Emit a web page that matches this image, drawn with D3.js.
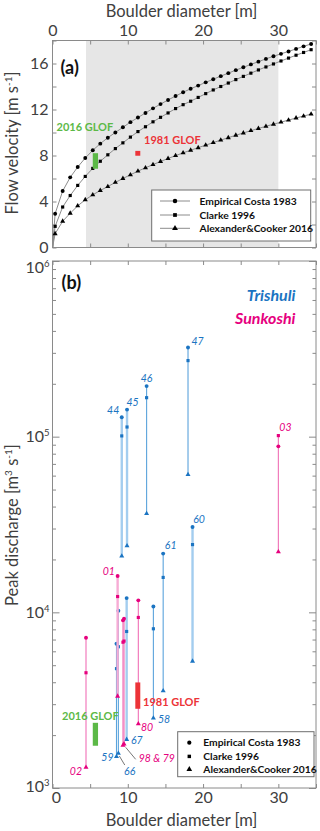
<!DOCTYPE html>
<html>
<head>
<meta charset="utf-8">
<script src="https://cdn.jsdelivr.net/npm/d3@7/dist/d3.min.js"></script>
<style>
  body { margin: 0; background: #ffffff; }
  svg { display: block; font-family: Lato, "Open Sans", sans-serif; }
</style>
</head>
<body>
<script>
// ---- panel (a): flow velocity vs boulder diameter ----
var diameterA = [0, 0.35, 1.35, 2.35, 3.35, 4.35, 5.35, 6.35, 7.35, 8.35, 9.35, 10.35, 11.35,
  12.35, 13.35, 14.35, 15.35, 16.35, 17.35, 18.35, 19.35, 20.35, 21.35, 22.35, 23.35, 24.35,
  25.35, 26.35, 27.35, 28.35, 29.35, 30.35, 31.35, 32.35, 33.35, 34.35];
var velocityCosta = [0, 2.94, 4.91, 6.1, 7.0, 7.78, 8.45, 9.03, 9.55, 10.0, 10.45, 10.9, 11.3,
  11.7, 12.1, 12.47, 12.83, 13.17, 13.5, 13.8, 14.08, 14.36, 14.63, 14.9, 15.16, 15.42,
  15.67, 15.92, 16.16, 16.4, 16.63, 16.84, 17.05, 17.27, 17.49, 17.7];
var velocityClarke = [0, 1.84, 3.52, 4.52, 5.4, 6.18, 6.88, 7.5, 8.06, 8.6, 9.1, 9.6, 10.08,
  10.5, 10.93, 11.32, 11.7, 12.08, 12.42, 12.72, 13.05, 13.38, 13.7, 14.0, 14.3, 14.6,
  14.88, 15.16, 15.44, 15.7, 15.96, 16.22, 16.47, 16.72, 16.96, 17.2];
var velocityAlexander = [0, 1.2, 2.28, 2.98, 3.62, 4.15, 4.58, 4.96, 5.3, 5.66, 6.0, 6.32, 6.64,
  6.93, 7.21, 7.48, 7.74, 7.99, 8.23, 8.46, 8.68, 8.9, 9.12, 9.34, 9.55, 9.76,
  9.96, 10.16, 10.35, 10.54, 10.72, 10.9, 11.08, 11.26, 11.43, 11.6];
var shadedDiameter = [4.45, 30];

// GLOF estimates: diameter range, velocity range, discharge range
var glof2016Diameter = [5.35, 6.05];
var glof2016Velocity = [6.85, 8.2];
var glof2016Discharge = [1740, 2350];
var glof1981Diameter = [11.0, 11.66];
var glof1981Velocity = [7.98, 8.4];
var glof1981Discharge = [2825, 3990];

// ---- panel (b): peak discharge per boulder ----
var trishuliLabels = ["44", "45", "46", "47", "60", "61", "58", "67", "59", "66"];
var trishuliDiameter = [9.2, 9.9, 12.5, 18.0, 18.6, 14.7, 13.4, 9.85, 8.5, 8.75];
var trishuliCosta = [129000, 142600, 194000, 322000, 30600, 21600, 10800, 12050, 6620, 10200];
var trishuliClarke = [101000, 113500, 166700, 271000, 24300, 15800, 8060, 7780, 4780, 6370];
var trishuliAlexander = [20900, 23900, 36500, 60800, 5270, 3570, 2500, 1890, 1510, 1575];

var sunkoshiLabels = ["01", "03", "02", "98", "79", "80"];
var sunkoshiDiameter = [8.65, 30.0, 4.45, 9.36, 9.5, 11.4];
var sunkoshiCosta = [16100, 88100, 7160, 9000, 9200, 11700];
var sunkoshiClarke = [12300, 101400, 4530, 6760, 6860, 9350];
var sunkoshiAlexander = [3330, 22100, 1310, 1750, 1780, 2320];

var methodNames = ["Empirical Costa 1983", "Clarke 1996", "Alexander&Cooker 2016"];

// styling
var blue = "#1b74c2", blueLine = "#5ba3dc", blueWide = "#a3cdef";
var pink = "#e6007e", pinkLine = "#f070b6", pinkWide = "#f7acd5";
var green = "#5cb947", red = "#ec3338";
var axisGrey = "#8a8a8a", labelGrey = "#404040";
var wideLines = ["44", "45", "60", "67", "01"];

// label placement: [which end, dx, dy, anchor]
var labelPlace = {
  "44": ["top", -2.5, -6.5, "end"], "45": ["top", -0.5, -7.6, "start"],
  "46": ["top", 0, -7.4, "middle"], "47": ["top", 3.4, -6.3, "start"],
  "60": ["top", 0.6, -7.4, "start"], "61": ["top", 1.7, -8, "start"],
  "58": ["bottom", 4.6, 1, "start"], "67": ["bottom", 4.3, 0.7, "start"],
  "59": ["bottom", -3, 1, "end"], "66": ["bottom", 5.7, 18.4, "start"],
  "01": ["top", -2.7, -5, "end"], "03": ["top", 1, -8, "start"],
  "02": ["bottom", -4, 4.4, "end"], "98": ["bottom", 15.7, 13, "start"],
  "80": ["bottom", 2.7, 3.6, "start"]
};

var width = 320, height = 831;
var svg, xA, yA, xB, yB;

function start()
{
  svg = d3.select("body").append("svg").attr("width", width).attr("height", height);
  svg.append("rect").attr("width", width).attr("height", height).attr("fill", "#ffffff");

  xA = d3.scaleLinear().domain([0, 35]).range([52.5, 316]);
  yA = d3.scaleLinear().domain([0, 18]).range([247.5, 40.5]);
  xB = d3.scaleLinear().domain([0, 35]).range([52.5, 316]);
  yB = d3.scaleLog().domain([1e3, 1e6]).range([788, 261]);

  drawPanelA();
  drawPanelB();
}

function symbolPath(kind, size)
{
  var type = kind === 0 ? d3.symbolCircle : (kind === 1 ? d3.symbolSquare : d3.symbolTriangle);
  return d3.symbol().type(type).size(size)();
}

function styleAxis(ax)
{
  ax.select(".domain").remove();
  ax.selectAll("line").attr("stroke", axisGrey);
  ax.selectAll("text").attr("fill", labelGrey).style("font-size", "16px")
    .style("font-family", "Lato, sans-serif");
}

function drawPanelA()
{
  var g = svg.append("g");

  // shaded boulder range
  g.append("rect")
    .attr("x", xA(shadedDiameter[0])).attr("y", yA(18))
    .attr("width", xA(shadedDiameter[1]) - xA(shadedDiameter[0]))
    .attr("height", yA(0) - yA(18))
    .attr("fill", "#e6e6e6");

  var ticksY = d3.range(0, 19, 2);
  var ticksX = d3.range(0, 36, 5);

  [
    g.append("g").attr("transform", "translate(" + xA(0) + ",0)")
      .call(d3.axisLeft(yA).tickValues(ticksY).tickSize(-4).tickPadding(4)
        .tickFormat(function(d) { return (d % 4 === 0 && d < 18) ? d : ""; })),
    g.append("g").attr("transform", "translate(" + xA(35) + ",0)")
      .call(d3.axisRight(yA).tickValues(ticksY).tickSize(-4).tickFormat("")),
    g.append("g").attr("transform", "translate(0," + yA(18) + ")")
      .call(d3.axisTop(xA).tickValues(ticksX).tickSize(-4).tickPadding(5)
        .tickFormat(function(d) { return d % 10 === 0 ? d : ""; })),
    g.append("g").attr("transform", "translate(0," + yA(0) + ")")
      .call(d3.axisBottom(xA).tickValues(ticksX).tickSize(-4).tickFormat(""))
  ].forEach(styleAxis);

  g.append("rect")
    .attr("x", xA(0)).attr("y", yA(18))
    .attr("width", xA(35) - xA(0)).attr("height", yA(0) - yA(18))
    .attr("fill", "none").attr("stroke", axisGrey);

  // curves
  var series = [velocityCosta, velocityClarke, velocityAlexander];
  var sizes = [12, 10, 11];
  var line = d3.line()
    .x(function(d) { return xA(d[0]); })
    .y(function(d) { return yA(d[1]); });

  series.forEach(function(values, k)
  {
    var pts = diameterA.map(function(d, i) { return [d, values[i]]; });
    g.append("path").datum(pts).attr("d", line)
      .attr("fill", "none").attr("stroke", "#8c8c8c").attr("stroke-width", 1);
    g.selectAll("path.m" + k).data(pts.slice(1)).enter().append("path")
      .attr("class", "m" + k)
      .attr("d", symbolPath(k, sizes[k]))
      .attr("transform", function(d) { return "translate(" + xA(d[0]) + "," + yA(d[1]) + ")"; })
      .attr("fill", "#000000");
  });

  // GLOF marks
  g.append("rect")
    .attr("x", xA(glof2016Diameter[0])).attr("y", yA(glof2016Velocity[1]))
    .attr("width", xA(glof2016Diameter[1]) - xA(glof2016Diameter[0]))
    .attr("height", yA(glof2016Velocity[0]) - yA(glof2016Velocity[1]))
    .attr("fill", green);
  g.append("rect")
    .attr("x", xA(glof1981Diameter[0])).attr("y", yA(glof1981Velocity[1]))
    .attr("width", xA(glof1981Diameter[1]) - xA(glof1981Diameter[0]))
    .attr("height", yA(glof1981Velocity[0]) - yA(glof1981Velocity[1]))
    .attr("fill", red);

  g.append("text").attr("x", 56.5).attr("y", 127).attr("dy", "0.35em")
    .attr("fill", green).style("font-size", "11px").style("font-weight", "bold")
    .text("2016 GLOF");
  g.append("text").attr("x", 144).attr("y", 140).attr("dy", "0.35em")
    .attr("fill", red).style("font-size", "11px").style("font-weight", "bold")
    .text("1981 GLOF");

  g.append("text").attr("x", 60.5).attr("y", 74)
    .style("font-size", "18px").style("font-weight", "bold").attr("fill", "#111")
    .text("(a)");

  // legend
  var lg = g.append("g");
  lg.append("rect").attr("x", 151.7).attr("y", 190).attr("width", 159).attr("height", 51)
    .attr("fill", "#ffffff").attr("stroke", "#6e6e6e");
  var rows = [201, 215, 228.3];
  methodNames.forEach(function(name, k)
  {
    lg.append("line").attr("x1", 160).attr("x2", 190).attr("y1", rows[k]).attr("y2", rows[k])
      .attr("stroke", "#8c8c8c");
    lg.append("path").attr("d", symbolPath(k, sizes[k] + 4))
      .attr("transform", "translate(175," + rows[k] + ")").attr("fill", "#000");
    lg.append("text").attr("x", 199.5).attr("y", rows[k]).attr("dy", "0.35em")
      .style("font-size", "10.3px").style("font-weight", "bold").attr("fill", "#111")
      .text(name);
  });

  // axis titles
  svg.append("text").attr("x", 181.5).attr("y", 17).attr("text-anchor", "middle")
    .style("font-size", "16.5px").attr("fill", labelGrey).text("Boulder diameter [m]");

  var yt = svg.append("text").attr("transform", "translate(18,143) rotate(-90)")
    .attr("text-anchor", "middle").style("font-size", "16.5px").attr("fill", labelGrey);
  yt.append("tspan").text("Flow velocity [m s");
  yt.append("tspan").attr("dy", -6).style("font-size", "10px").text("-1");
  yt.append("tspan").attr("dy", 6).text("]");
}

function drawPanelB()
{
  var g = svg.append("g");

  var ticksX = d3.range(0, 36, 5);
  var minor = [];
  [1e3, 1e4, 1e5].forEach(function(p)
  {
    for (var m = 2; m <= 9; m++) minor.push(m * p);
  });
  var major = [1e3, 1e4, 1e5, 1e6];

  var bottomAxis = g.append("g").attr("transform", "translate(0," + yB(1e3) + ")")
    .call(d3.axisBottom(xB).tickValues(ticksX).tickSize(-4).tickPadding(4)
      .tickFormat(function(d) { return d % 10 === 0 ? d : ""; }));

  [
    bottomAxis,
    g.append("g").attr("transform", "translate(0," + yB(1e6) + ")")
      .call(d3.axisTop(xB).tickValues(ticksX).tickSize(-4).tickFormat("")),
    g.append("g").attr("transform", "translate(" + xB(0) + ",0)")
      .call(d3.axisLeft(yB).tickValues(minor).tickSize(-3.5).tickFormat("")),
    g.append("g").attr("transform", "translate(" + xB(35) + ",0)")
      .call(d3.axisRight(yB).tickValues(minor).tickSize(-3.5).tickFormat("")),
    g.append("g").attr("transform", "translate(" + xB(0) + ",0)")
      .call(d3.axisLeft(yB).tickValues(major).tickSize(-7).tickFormat("")),
    g.append("g").attr("transform", "translate(" + xB(35) + ",0)")
      .call(d3.axisRight(yB).tickValues(major).tickSize(-7).tickFormat(""))
  ].forEach(styleAxis);

  // nudge the "0" label clear of the 10^3 label, as in the original
  bottomAxis.selectAll(".tick text").filter(function(d) { return d === 0; }).attr("dx", 3.5);

  g.append("rect")
    .attr("x", xB(0)).attr("y", yB(1e6))
    .attr("width", xB(35) - xB(0)).attr("height", yB(1e3) - yB(1e6))
    .attr("fill", "none").attr("stroke", axisGrey);

  // decade labels 10^k
  major.forEach(function(v)
  {
    var exp = Math.round(Math.log10(v));
    var yy = exp === 6 ? yB(v) + 6.5 : (exp === 3 ? yB(v) - 1.5 : yB(v));
    var t = g.append("text").attr("x", 49.5).attr("y", yy).attr("dy", "0.35em")
      .attr("text-anchor", "end").attr("fill", labelGrey).style("font-size", "16px");
    t.append("tspan").text("10");
    t.append("tspan").attr("dy", -6).style("font-size", "9.5px").text(exp);
  });

  drawRiver(g, trishuliLabels, trishuliDiameter, trishuliCosta, trishuliClarke, trishuliAlexander,
    blue, blueLine, blueWide);
  drawRiver(g, sunkoshiLabels, sunkoshiDiameter, sunkoshiCosta, sunkoshiClarke, sunkoshiAlexander,
    pink, pinkLine, pinkWide);

  // leader lines for crowded labels
  var leaders = [["66", trishuliLabels, trishuliDiameter, trishuliAlexander, 1, 2.7, 6.4, 11.7],
                 ["98", sunkoshiLabels, sunkoshiDiameter, sunkoshiAlexander, 2.7, 2, 12.7, 14]];
  leaders.forEach(function(l)
  {
    var i = l[1].indexOf(l[0]);
    var x0 = xB(l[2][i]), y0 = yB(l[3][i]);
    g.append("line").attr("x1", x0 + l[4]).attr("y1", y0 + l[5])
      .attr("x2", x0 + l[6]).attr("y2", y0 + l[7])
      .attr("stroke", "#777").attr("stroke-width", 1);
  });

  // GLOF bars
  g.append("rect")
    .attr("x", xB(glof2016Diameter[0])).attr("y", yB(glof2016Discharge[1]))
    .attr("width", xB(glof2016Diameter[1]) - xB(glof2016Diameter[0]))
    .attr("height", yB(glof2016Discharge[0]) - yB(glof2016Discharge[1]))
    .attr("fill", green);
  g.append("rect")
    .attr("x", xB(glof1981Diameter[0])).attr("y", yB(glof1981Discharge[1]))
    .attr("width", xB(glof1981Diameter[1]) - xB(glof1981Diameter[0]))
    .attr("height", yB(glof1981Discharge[0]) - yB(glof1981Discharge[1]))
    .attr("fill", red);
  g.append("text").attr("x", 62).attr("y", 716).attr("dy", "0.35em")
    .attr("fill", green).style("font-size", "11px").style("font-weight", "bold")
    .text("2016 GLOF");
  g.append("text").attr("x", 143).attr("y", 701.7).attr("dy", "0.35em")
    .attr("fill", red).style("font-size", "11px").style("font-weight", "bold")
    .text("1981 GLOF");

  g.append("text").attr("x", 61.5).attr("y", 289)
    .style("font-size", "18px").style("font-weight", "bold").attr("fill", "#111")
    .text("(b)");

  g.append("text").attr("x", 295.5).attr("y", 301).attr("text-anchor", "end")
    .style("font-size", "16px").style("font-weight", "bold").style("font-style", "italic")
    .attr("fill", blue).text("Trishuli");
  g.append("text").attr("x", 295.5).attr("y", 323.5).attr("text-anchor", "end")
    .style("font-size", "16px").style("font-weight", "bold").style("font-style", "italic")
    .attr("fill", pink).text("Sunkoshi");

  // legend
  var lg = g.append("g");
  lg.append("rect").attr("x", 177.7).attr("y", 731.7).attr("width", 136.3).attr("height", 45)
    .attr("fill", "#ffffff").attr("stroke", "#6e6e6e");
  var rows = [742.7, 756.4, 769.3];
  var sizes = [14, 12, 14];
  methodNames.forEach(function(name, k)
  {
    lg.append("path").attr("d", symbolPath(k, sizes[k]))
      .attr("transform", "translate(189.3," + rows[k] + ")").attr("fill", "#000");
    lg.append("text").attr("x", 203.3).attr("y", rows[k]).attr("dy", "0.35em")
      .style("font-size", "10.3px").style("font-weight", "bold").attr("fill", "#111")
      .text(name);
  });

  // axis titles
  svg.append("text").attr("x", 181.5).attr("y", 825.5).attr("text-anchor", "middle")
    .style("font-size", "16.5px").attr("fill", labelGrey).text("Boulder diameter [m]");

  var yt = svg.append("text").attr("transform", "translate(18,525) rotate(-90)")
    .attr("text-anchor", "middle").style("font-size", "16.5px").attr("fill", labelGrey);
  yt.append("tspan").text("Peak discharge [m");
  yt.append("tspan").attr("dy", -6).style("font-size", "10px").text("3");
  yt.append("tspan").attr("dy", 6).text(" s");
  yt.append("tspan").attr("dy", -6).style("font-size", "10px").text("-1");
  yt.append("tspan").attr("dy", 6).text("]");
}

function drawRiver(g, labels, diam, costa, clarke, alexander, colour, lineColour, wideColour)
{
  var rows = labels.map(function(lab, i)
  {
    return { label: lab, d: diam[i], vals: [costa[i], clarke[i], alexander[i]] };
  });

  g.selectAll(null).data(rows).enter().append("line")
    .attr("x1", function(r) { return xB(r.d); })
    .attr("x2", function(r) { return xB(r.d); })
    .attr("y1", function(r) { return yB(d3.max(r.vals)); })
    .attr("y2", function(r) { return yB(d3.min(r.vals)); })
    .attr("stroke", function(r) { return wideLines.indexOf(r.label) >= 0 ? wideColour : lineColour; })
    .attr("stroke-width", function(r) { return wideLines.indexOf(r.label) >= 0 ? 2.4 : 1.1; });

  var sizes = [12, 10, 11];
  rows.forEach(function(r)
  {
    r.vals.forEach(function(v, k)
    {
      g.append("path").attr("d", symbolPath(k, sizes[k]))
        .attr("transform", "translate(" + xB(r.d) + "," + yB(v) + ")")
        .attr("fill", colour);
    });

    var place = labelPlace[r.label];
    if (!place) return;
    var yv = place[0] === "top" ? d3.max(r.vals) : d3.min(r.vals);
    g.append("text")
      .attr("x", xB(r.d) + place[1]).attr("y", yB(yv) + place[2]).attr("dy", "0.35em")
      .attr("text-anchor", place[3])
      .style("font-size", "10.5px").style("font-style", "italic").attr("fill", colour)
      .text(r.label === "98" ? "98 & 79" : r.label);
  });
}

start();
</script>
</body>
</html>
